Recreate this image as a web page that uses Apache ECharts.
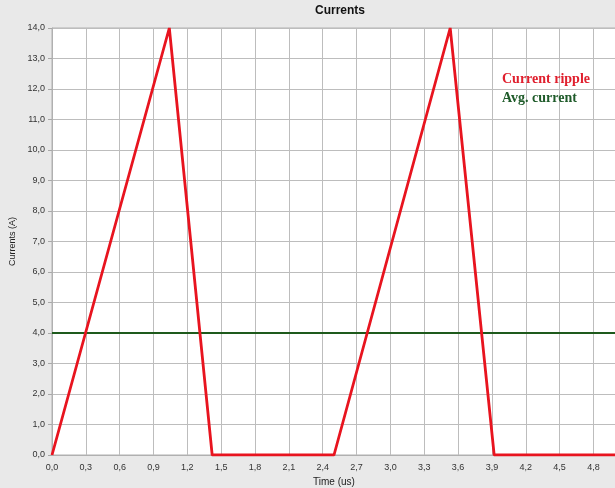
<!DOCTYPE html>
<html>
<head>
<meta charset="utf-8">
<script src="https://cdn.jsdelivr.net/npm/echarts@6/dist/echarts.min.js"></script>
<style>
html,body{margin:0;padding:0;background:#e9e9e9;}
#c{width:615px;height:488px;}
</style>
</head>
<body>
<div id="c"></div>
<script>
// Data
var rippleTime = [0.0, 1.04, 1.42, 2.50, 3.53, 3.92, 5.0];
var rippleCurrent = [0.0, 14.0, 0.0, 0.0, 14.0, 0.0, 0.0];
var avgTime = [0.0, 5.0];
var avgCurrent = [4.0, 4.0];
var seriesNames = ['Current ripple', 'Avg. current'];

function pairs(xs, ys) { return xs.map(function (x, i) { return [x, ys[i]]; }); }
function comma(v) { return v.toFixed(1).replace('.', ','); }

var chart = echarts.init(document.getElementById('c'), null, { renderer: 'canvas' });
chart.setOption({
  backgroundColor: '#e9e9e9',
  animation: false,
  title: {
    text: 'Currents',
    left: 335, top: 0, textAlign: 'center',
    textStyle: { fontFamily: 'Liberation Sans, Arial, sans-serif', fontSize: 12, fontWeight: 'bold', color: '#111' }
  },
  legend: {
    orient: 'vertical',
    left: 497, top: 67,
    icon: 'none',
    itemWidth: 0, itemHeight: 10, itemGap: 5,
    selectedMode: false,
    data: [
      { name: seriesNames[0], textStyle: { color: '#e0202e' } },
      { name: seriesNames[1], textStyle: { color: '#1f5b2a' } }
    ],
    textStyle: { fontFamily: 'Liberation Serif, Times New Roman, serif', fontSize: 14, fontWeight: 'bold', padding: [0, 0, 0, -5] }
  },
  grid: { left: 52, top: 28, right: -1, bottom: 33, containLabel: false, outerBoundsMode: 'none', show: true, backgroundColor: '#ffffff', borderColor: '#b0b0b0', borderWidth: 1 },
  xAxis: {
    type: 'value', min: 0, max: 5.0, interval: 0.3,
    name: 'Time (us)', nameLocation: 'middle', nameGap: 18,
    nameTextStyle: { fontFamily: 'Liberation Sans, Arial, sans-serif', fontSize: 10, color: '#222' },
    axisLine: { show: true, lineStyle: { color: '#b0b0b0' } },
    axisTick: { show: false },
    axisLabel: { formatter: comma, showMaxLabel: false, fontFamily: 'Liberation Sans, Arial, sans-serif', fontSize: 9, color: '#333', margin: 8 },
    splitLine: { show: true, lineStyle: { color: '#bdbdbd', width: 1 } }
  },
  yAxis: {
    type: 'value', min: 0, max: 14, interval: 1,
    name: 'Currents (A)', nameLocation: 'middle', nameGap: 30, nameRotate: 90,
    nameTextStyle: { fontFamily: 'Liberation Sans, Arial, sans-serif', fontSize: 9, color: '#222' },
    axisLine: { show: true, lineStyle: { color: '#b0b0b0' } },
    axisTick: { show: true, inside: false, length: 4, lineStyle: { color: '#a8a8a8' } },
    axisLabel: { formatter: comma, fontFamily: 'Liberation Sans, Arial, sans-serif', fontSize: 9, color: '#333', margin: 7 },
    splitLine: { show: true, lineStyle: { color: '#bdbdbd', width: 1 } }
  },
  series: [
    {
      name: seriesNames[0], type: 'line', symbol: 'none',
      data: pairs(rippleTime, rippleCurrent),
      lineStyle: { color: '#e8141f', width: 2.8 }, itemStyle: { color: '#e8141f' }, z: 3
    },
    {
      name: seriesNames[1], type: 'line', symbol: 'none',
      data: pairs(avgTime, avgCurrent),
      lineStyle: { color: '#1e5a1c', width: 2 }, itemStyle: { color: '#1e5a1c' }, z: 2
    }
  ]
});
</script>
</body>
</html>
